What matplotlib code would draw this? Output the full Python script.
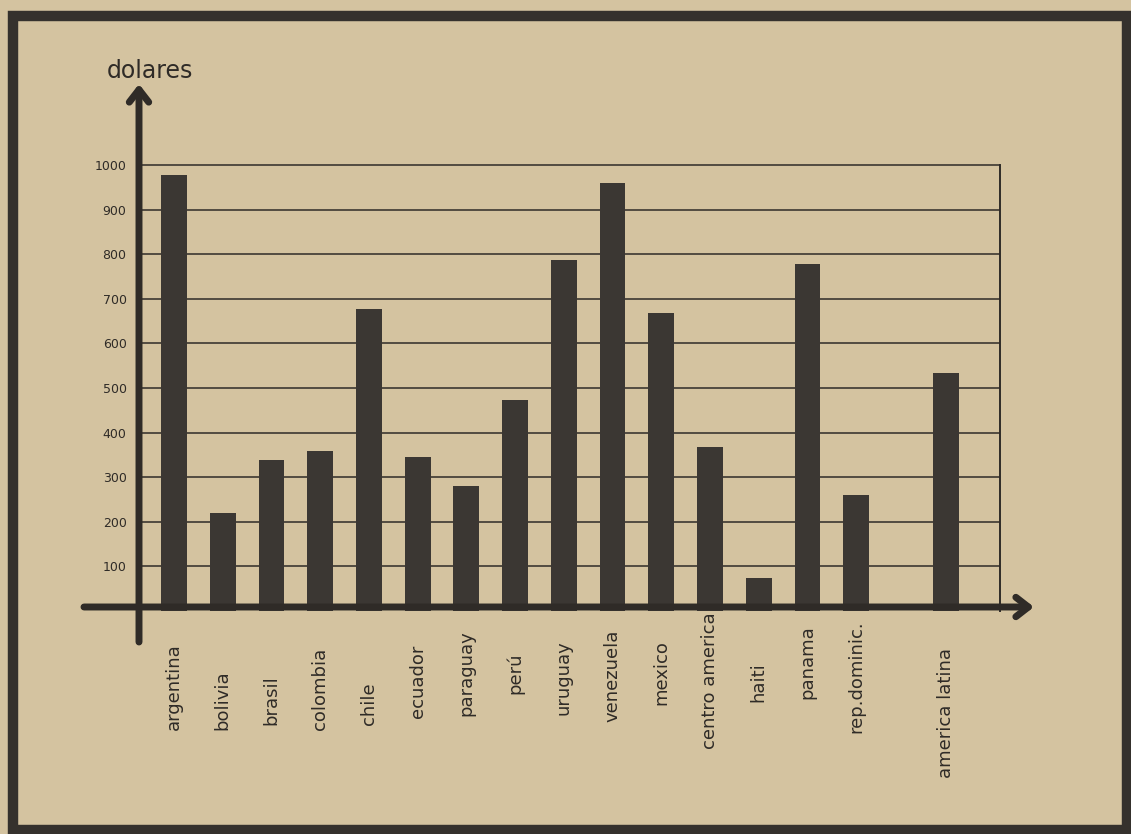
import matplotlib
matplotlib.use("Agg")
import matplotlib.pyplot as plt
from matplotlib.patches import Rectangle
import numpy as np

# ---- data ----
countries = ["argentina", "bolivia", "brasil", "colombia", "chile", "ecuador",
             "paraguay", "perú", "uruguay", "venezuela", "mexico",
             "centro america", "haiti", "panama", "rep.dominic.", "america latina"]
values = [978, 219, 338, 358, 678, 345, 280, 472, 787, 960, 669, 368, 75, 778, 261, 534]
yticks = [100, 200, 300, 400, 500, 600, 700, 800, 900, 1000]
ylabel = "dolares"

# ---- layout / style ----
W, H = 1131, 834
paper = "#d4c3a0"
ink = "#2f2b27"
bar_col = "#3b3733"
positions = list(range(15)) + [15.85]
label_tops = [643, 670, 675, 648, 682, 645, 630, 653, 640, 630, 640, 612, 662, 625, 620, 648]

fig = plt.figure(figsize=(W / 100, H / 100), dpi=100)
fig.patch.set_facecolor(paper)

def fx(x):
    return x / W

def fy(y):
    return 1 - y / H

x0_px, slot_px = 174.0, 48.73
ax_left, ax_right = 139, 1000
y_zero, y_top = 611, 165
ax = fig.add_axes([fx(ax_left), fy(y_zero), (ax_right - ax_left) / W, (y_zero - y_top) / H])
ax.set_facecolor("none")
ax.set_xlim((ax_left - x0_px) / slot_px, (ax_right - x0_px) / slot_px)
ax.set_ylim(0, 1000)

ax.bar(positions, values, width=0.53, color=bar_col, zorder=3)

ax.set_yticks(yticks)
ax.set_yticklabels([str(t) for t in yticks], fontsize=9, color=ink)
ax.tick_params(axis="y", length=0, pad=9)
ax.set_xticks([])
xl = ax.get_xlim()
ax.hlines(yticks, xl[0], xl[1], colors=ink, lw=1.1, zorder=1, clip_on=False)
for s in ["left", "top", "bottom"]:
    ax.spines[s].set_visible(False)
ax.spines["right"].set_color(ink)
ax.spines["right"].set_linewidth(1.4)

# category labels
trans = ax.get_xaxis_transform()
for p, name, top in zip(positions, countries, label_tops):
    ya = (y_zero - top) / (y_zero - y_top)
    ax.text(p, ya, name, rotation=90, ha="center", va="top", fontsize=13,
            color=ink, transform=trans, clip_on=False)

# axes with arrows (figure coordinates)
arrow = dict(arrowstyle="->,head_length=0.45,head_width=0.35",
             lw=5, color=ink, mutation_scale=20, shrinkA=0, shrinkB=0)
ax.annotate("", xy=(fx(139), fy(84)), xytext=(fx(139), fy(642)),
            xycoords="figure fraction", textcoords="figure fraction", arrowprops=arrow)
ax.annotate("", xy=(fx(1034), fy(607)), xytext=(fx(84), fy(607)),
            xycoords="figure fraction", textcoords="figure fraction", arrowprops=arrow)

fig.text(fx(150), fy(78), ylabel, ha="center", va="baseline", fontsize=17, color=ink)

# frame
fig.add_artist(Rectangle((fx(13), fy(830)), fx(1127) - fx(13), fy(16) - fy(830),
                         transform=fig.transFigure, fill=False, lw=7.5,
                         edgecolor="#35312d"))

fig.savefig("out.png", dpi=100, facecolor=paper)
